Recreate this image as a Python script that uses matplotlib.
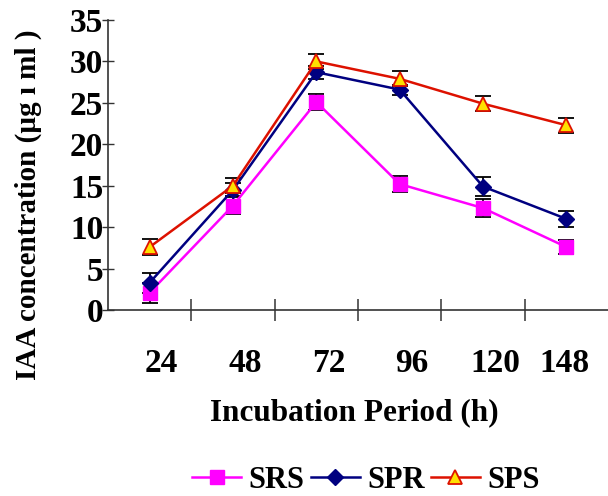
import numpy as np
import matplotlib.pyplot as plt
from matplotlib.lines import Line2D
from matplotlib.transforms import ScaledTranslation

plt.rcParams['font.family'] = ['Liberation Serif', 'DejaVu Serif']
plt.rcParams['font.weight'] = 'bold'

hours = ['24', '48', '72', '96', '120', '148']
srs = [2.1, 12.6, 25.1, 15.2, 12.3, 7.6]
spr = [3.3, 14.5, 28.7, 26.6, 14.9, 11.0]
sps = [7.6, 15.0, 30.0, 27.9, 24.9, 22.3]
srs_err = [1.2, 1.0, 1.0, 1.0, 1.1, 0.9]
spr_err = [1.2, 0.8, 0.8, 0.6, 1.1, 1.0]
sps_err = [1.0, 0.9, 0.9, 0.9, 0.9, 0.9]

W, H = 608, 496
fig = plt.figure(figsize=(W / 100, H / 100), dpi=100)
ax = fig.add_axes([108 / W, (H - 310) / H, 500 / W, 290 / H])

x = np.arange(len(hours))
ebar = dict(ecolor='black', elinewidth=1.3, capsize=6, capthick=1.3)
styles = [
    (srs, srs_err, 'SRS', dict(color='#FF00FF', marker='s', ms=10, mfc='#FF00FF', mec='#FF00FF')),
    (spr, spr_err, 'SPR', dict(color='#000080', marker='D', ms=8, mfc='#000080', mec='#000080')),
    (sps, sps_err, 'SPS', dict(color='#DD1100', marker='^', ms=10, mfc='#FFE000', mec='#DD1100', mew=1.3)),
]
handles = []
for vals, err, name, st in styles:
    ax.errorbar(x, vals, yerr=err, lw=1.8, **st, **ebar)
    handles.append(Line2D([], [], lw=1.8, label=name, **st))

ax.set_xlim(-0.5, len(hours) - 0.5)
ax.set_ylim(0, 35)
ax.set_yticks(range(0, 36, 5))
ax.tick_params(axis='y', labelsize=24, direction='inout', length=9, width=1, colors='#333333',
               labelcolor='black', pad=-1)
ax.set_xticks(x)
ax.set_xticklabels(hours)
ax.tick_params(axis='x', which='major', length=0, labelsize=24, pad=27)
ax.set_xticks(x[:-1] + 0.5, minor=True)
ax.tick_params(axis='x', which='minor', direction='inout', length=16, width=1.2, colors='#444444')
for i, lab in enumerate(ax.get_xticklabels()):
    dx = 12 if i < len(hours) - 1 else -2
    lab.set_transform(lab.get_transform() + ScaledTranslation(dx / 100, 0, fig.dpi_scale_trans))

for s in ['top', 'right']:
    ax.spines[s].set_visible(False)
for s in ['left', 'bottom']:
    ax.spines[s].set_color('#333333')
    ax.spines[s].set_linewidth(1.2)

fig.text(28 / W, 1 - 205 / H, 'IAA concentration (µg ı ml )', rotation=90, fontsize=21,
         ha='center', va='center', fontweight='bold')
fig.text(354 / W, 1 - 413 / H, 'Incubation Period (h)', fontsize=22.5,
         ha='center', va='center', fontweight='bold')

fig.legend(handles=handles, loc='center', bbox_to_anchor=(366 / W, 1 - 480 / H), ncol=3,
           frameon=False, fontsize=22, handlelength=1.6, columnspacing=0.2, handletextpad=0.25,
           borderpad=0)

fig.savefig('out.png', dpi=100)
